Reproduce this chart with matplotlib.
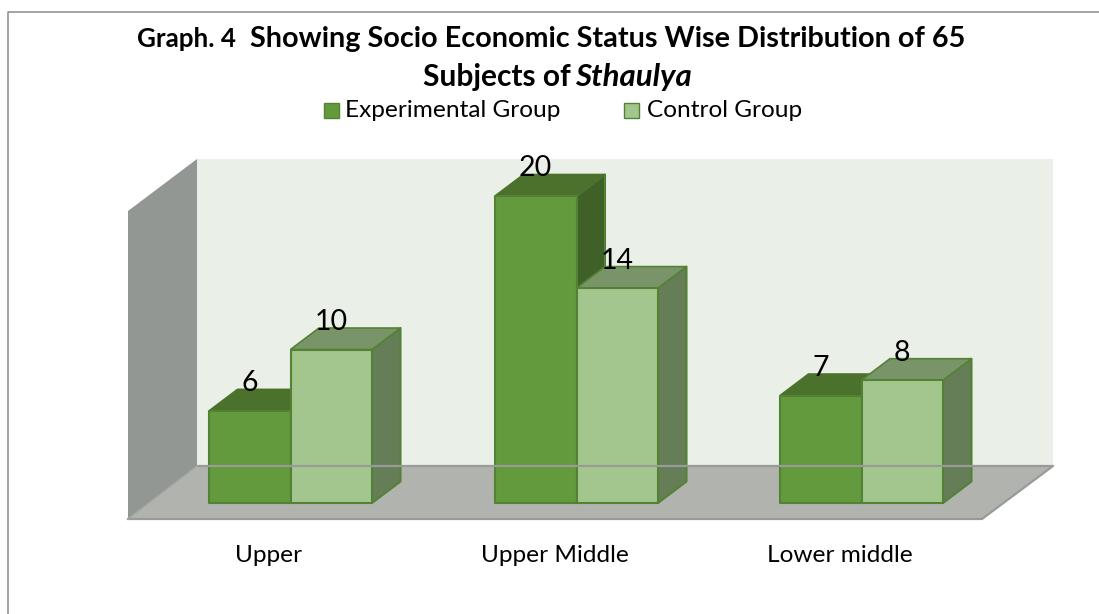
import matplotlib
matplotlib.use("Agg")
import matplotlib.pyplot as plt
from matplotlib.patches import Polygon, Rectangle

plt.rcParams['font.family'] = ['Lato', 'DejaVu Sans']

categories = ["Upper", "Upper Middle", "Lower middle"]
experimental = [6, 20, 7]
control = [10, 14, 8]
series_names = ["Experimental Group", "Control Group"]

# layout, in pixels of the 1099x614 canvas
BASE_Y, UNIT = 503, 15.35
DX, DY = 28.5, 21.5
BAR_W = 81.5
GROUP_X = [209, 495, 780]
EDGE = '#548235'
STYLES = [
    dict(front='#639A3D', top='#4A722C', side='#3F6127'),
    dict(front='#A3C68E', top='#7A946A', side='#657E58'),
]

fig = plt.figure(figsize=(10.99, 6.14), dpi=100, facecolor='white')
ax = fig.add_axes([0, 0, 1, 1])
ax.set_xlim(0, 1099)
ax.set_ylim(614, 0)
ax.axis('off')

# chart frame
ax.plot([8, 8, 1099], [614, 11.5, 11.5], color='#8C8C8C', lw=1.1)

# 3D walls and floor
ax.add_patch(Polygon([(128, 211), (197, 159), (197, 466), (128, 519)], fc='#939793', ec='none'))
ax.add_patch(Polygon([(197, 159), (1053, 159), (1053, 466), (197, 466)], fc='#EAEFE8', ec='none'))
ax.add_patch(Polygon([(128, 519), (197, 466), (1053, 466), (982, 519)], fc='#B0B3AE', ec='none'))
ax.plot([197, 1053, 982, 128], [466, 466, 519, 519], color='#999B98', lw=1.6)
ax.plot([128, 197], [519, 466], color='#A5A7A4', lw=1)


def draw_bar(x, value, style):
    top = BASE_Y - value * UNIT
    w = BAR_W
    kw = dict(ec=EDGE, lw=1.5, joinstyle='round')
    ax.add_patch(Polygon([(x + w, BASE_Y), (x + w + DX, BASE_Y - DY), (x + w + DX, top - DY), (x + w, top)],
                         fc=style['side'], **kw))
    ax.add_patch(Polygon([(x, top), (x + DX, top - DY), (x + w + DX, top - DY), (x + w, top)],
                         fc=style['top'], ec=style['top'] if style is STYLES[0] else EDGE, lw=1.2))
    ax.add_patch(Rectangle((x, top), w, value * UNIT, fc=style['front'], **kw))
    ax.text(x + w / 2, top - 19.5, str(value), ha='center', va='baseline', fontsize=20.5, color='black')


for gx, e, c, name in zip(GROUP_X, experimental, control, categories):
    draw_bar(gx, e, STYLES[0])
    draw_bar(gx + BAR_W, c, STYLES[1])
    ax.text(gx + BAR_W - 22, 562, name, ha='center', va='baseline', fontsize=17.6, color='black')

# title
ax.text(137, 47, "Graph. 4", ha='left', va='baseline', fontsize=18.7, fontweight='bold', color='black')
ax.text(250, 47, "Showing Socio Economic Status Wise Distribution of 65",
        ha='left', va='baseline', fontsize=20.7, fontweight='bold', color='black')
ax.text(571, 86, "Subjects of", ha='right', va='baseline', fontsize=21.5, fontweight='bold', color='black')
ax.text(575, 86, "Sthaulya", ha='left', va='baseline', fontsize=22.5, fontweight='bold',
        style='italic', color='black')

# legend
for sx, tx, name, st in zip([324, 624], [345, 647], series_names, STYLES):
    ax.add_patch(Rectangle((sx, 103), 15, 15, fc=st['front'], ec=EDGE, lw=1))
    ax.text(tx, 117, name, ha='left', va='baseline', fontsize=17.6, color='black')

fig.savefig('out.png', dpi=100, facecolor='white')
